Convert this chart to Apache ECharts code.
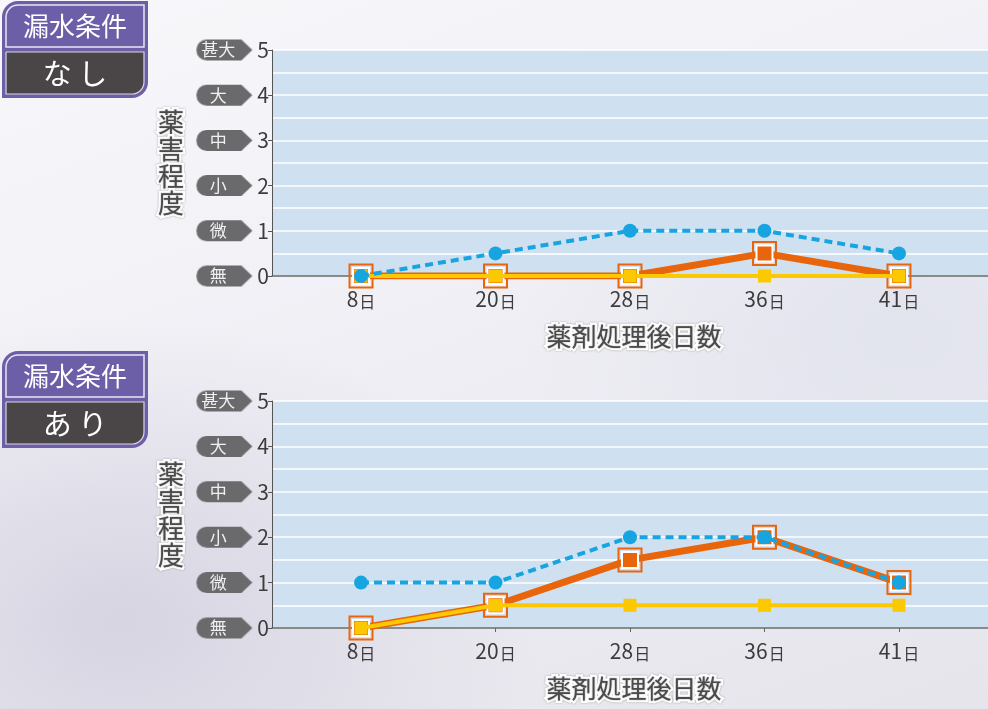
<!DOCTYPE html>
<html lang="ja">
<head>
<meta charset="utf-8">
<title>薬害程度の推移</title>
<script src="https://cdn.jsdelivr.net/npm/echarts@6/dist/echarts.min.js"></script>
<style>
  html, body { margin: 0; padding: 0; }
  body {
    width: 988px; height: 709px; overflow: hidden;
    background:
      radial-gradient(ellipse 420px 300px at 120px 620px, rgba(204,202,218,0.7), rgba(204,202,218,0) 100%),
      radial-gradient(ellipse 380px 260px at 900px 330px, rgba(218,222,234,0.6), rgba(218,222,234,0) 100%),
      linear-gradient(160deg, #f8f8fb 0%, #f0eff5 45%, #e6e5ec 100%);
  }
  #chart { width: 988px; height: 709px; }
</style>
</head>
<body>
<div id="chart"></div>
<script>
// 薬剤処理後日数（横軸カテゴリ）
const days = ['8', '20', '28', '36', '41'];
// 薬害程度の段階（0〜5）
const levelNames = ['無', '微', '小', '中', '大', '甚大'];

// 漏水条件：なし
const noLeakBlue   = [0, 0.5, 1, 1, 0.5];
const noLeakOrange = [0, 0, 0, 0.5, 0];
const noLeakYellow = [0, 0, 0, 0, 0];

// 漏水条件：あり
const leakBlue   = [1, 1, 2, 2, 1];
const leakOrange = [0, 0.5, 1.5, 2, 1];
const leakYellow = [0, 0.5, 0.5, 0.5, 0.5];

const BLUE = '#16a5e1';
const ORANGE = '#e8650c';
const YELLOW = '#fcc800';
const JP = 'Noto Sans CJK JP';

// grey tag with a right-pointing tip, used behind the level names
function makeTag(w, h) {
  const c = document.createElement('canvas');
  c.width = w; c.height = h;
  const g = c.getContext('2d');
  const r = h / 2, tip = 11;
  g.fillStyle = '#6a6a6c';
  g.beginPath();
  g.moveTo(r, 0);
  g.lineTo(w - tip, 0);
  g.lineTo(w, h / 2);
  g.lineTo(w - tip, h);
  g.lineTo(r, h);
  g.arc(r, r, r, Math.PI / 2, Math.PI * 1.5);
  g.closePath();
  g.fill();
  return c;
}
const tagImage = makeTag(56, 21);

const xCustom = days.map((d, i) => i + 1);
const toPoints = arr => arr.map((v, i) => [i + 1, v]);

const outlinedTitle = {
  fontFamily: JP,
  fontSize: 25,
  fontWeight: 'normal',
  color: '#4a4a4a',
  textBorderColor: '#ffffff',
  textBorderWidth: 5,
  textShadowColor: 'rgba(110,110,110,0.8)',
  textShadowBlur: 1.5
};

function xAxisFor(gridIndex) {
  return {
    type: 'value',
    gridIndex,
    min: 0.338,
    max: 5.662,
    name: '薬剤処理後日数',
    nameLocation: 'middle',
    nameGap: 48,
    nameTextStyle: Object.assign({ padding: [0, 0, 0, 8] }, outlinedTitle, { fontSize: 25 }),
    axisLine: { show: true, onZero: false, lineStyle: { color: '#666', width: 1.5 } },
    axisTick: { show: true, length: 4, customValues: xCustom, lineStyle: { color: '#666' } },
    splitLine: { show: false },
    axisLabel: {
      customValues: xCustom,
      margin: 13,
      fontFamily: JP,
      fontSize: 21,
      color: '#3c3c3c',
      formatter: v => {
        const d = days[Math.round(v) - 1];
        return d === undefined ? '' : '{num|' + d + '}{unit|日}';
      },
      rich: {
        num: { fontFamily: JP, fontSize: 21, color: '#3c3c3c' },
        unit: { fontFamily: JP, fontSize: 16, color: '#3c3c3c', padding: [4, 0, 0, 1] }
      }
    }
  };
}

function yAxisFor(gridIndex) {
  return {
    type: 'value',
    gridIndex,
    min: 0,
    max: 5,
    interval: 1,
    name: '薬\n害\n程\n度',
    nameLocation: 'middle',
    nameGap: 88,
    nameRotate: 0,
    nameTextStyle: Object.assign({ lineHeight: 27 }, outlinedTitle, { fontSize: 26 }),
    axisLine: { show: true, lineStyle: { color: '#555', width: 1 } },
    axisTick: { show: true, length: 4, lineStyle: { color: '#555' } },
    splitLine: { show: true, lineStyle: { color: '#ffffff', width: 1.5 } },
    minorTick: { show: false, splitNumber: 2 },
    minorSplitLine: { show: true, lineStyle: { color: '#ffffff', width: 1.5 } },
    axisLabel: {
      margin: 3,
      fontFamily: JP,
      fontSize: 20,
      color: '#3c3c3c',
      formatter: v => '{tag|' + levelNames[v] + '}{num|' + v + '}',
      rich: {
        tag: {
          width: 44, height: 21, padding: [0, 12, 0, 0],
          align: 'center',
          backgroundColor: { image: tagImage },
          color: '#f0f0f0', fontFamily: JP, fontSize: 17
        },
        num: { fontFamily: JP, fontSize: 21, color: '#3c3c3c', padding: [0, 0, 0, 5] }
      }
    }
  };
}

function seriesFor(idx, blue, orange, yellow) {
  const common = {
    type: 'line',
    xAxisIndex: idx,
    yAxisIndex: idx,
    emphasis: { disabled: true },
    silent: true,
    animation: false
  };
  return [
    // outer orange frame of the orange squares
    Object.assign({}, common, {
      name: 'orange-frame',
      data: toPoints(orange),
      z: 2,
      symbol: 'rect',
      symbolSize: 23,
      lineStyle: { width: 0, opacity: 0 },
      itemStyle: { color: 'rgba(0,0,0,0)', borderColor: ORANGE, borderWidth: 2 }
    }),
    Object.assign({}, common, {
      name: 'orange',
      data: toPoints(orange),
      z: 3,
      symbol: 'rect',
      symbolSize: 16,
      showAllSymbol: true,
      lineStyle: { color: ORANGE, width: 7 },
      itemStyle: { color: ORANGE, borderColor: '#ffffff', borderWidth: 2 }
    }),
    Object.assign({}, common, {
      name: 'yellow',
      data: toPoints(yellow),
      z: 4,
      symbol: 'rect',
      symbolSize: 13,
      lineStyle: { color: YELLOW, width: 4 },
      itemStyle: { color: YELLOW }
    }),
    Object.assign({}, common, {
      name: 'blue',
      data: toPoints(blue),
      z: 5,
      symbol: 'circle',
      symbolSize: 14,
      lineStyle: { color: BLUE, width: 4, type: [8, 5] },
      itemStyle: { color: BLUE }
    })
  ];
}

// 漏水条件 header box
function conditionBox(top, label) {
  return {
    type: 'group',
    x: 2,
    y: top,
    children: [
      { type: 'rect', shape: { x: 0, y: 0, width: 146, height: 97, r: [16, 0, 16, 0] },
        style: { fill: '#6c5ea7' } },
      { type: 'rect', shape: { x: 4, y: 4, width: 138, height: 42, r: [12, 0, 0, 0] },
        style: { fill: '#6c5ea7', stroke: '#e9e6f5', lineWidth: 1.5 } },
      { type: 'rect', shape: { x: 4, y: 51, width: 138, height: 42, r: [0, 0, 12, 0] },
        style: { fill: '#4a4648', stroke: '#d9d5e8', lineWidth: 1.2 } },
      { type: 'text', x: 73, y: 25,
        style: { text: '漏水条件', fill: '#ffffff', font: '26px "' + JP + '"', align: 'center', verticalAlign: 'middle' } },
      { type: 'text', x: 73, y: 73,
        style: { text: label, fill: '#ffffff', font: '29px "' + JP + '"', align: 'center', verticalAlign: 'middle' } }
    ]
  };
}

const chart = echarts.init(document.getElementById('chart'), null, { renderer: 'canvas' });
chart.setOption({
  animation: false,
  backgroundColor: 'transparent',
  grid: [
    { left: 272, top: 50, height: 226, right: -8, show: true, backgroundColor: '#cfe0f1', borderWidth: 0 },
    { left: 272, top: 401, height: 227, right: -8, show: true, backgroundColor: '#cfe0f1', borderWidth: 0 }
  ],
  xAxis: [xAxisFor(0), xAxisFor(1)],
  yAxis: [yAxisFor(0), yAxisFor(1)],
  series: [].concat(
    seriesFor(0, noLeakBlue, noLeakOrange, noLeakYellow),
    seriesFor(1, leakBlue, leakOrange, leakYellow)
  ),
  graphic: [
    conditionBox(1, 'な し'),
    conditionBox(351, 'あ り')
  ]
});
</script>
</body>
</html>
